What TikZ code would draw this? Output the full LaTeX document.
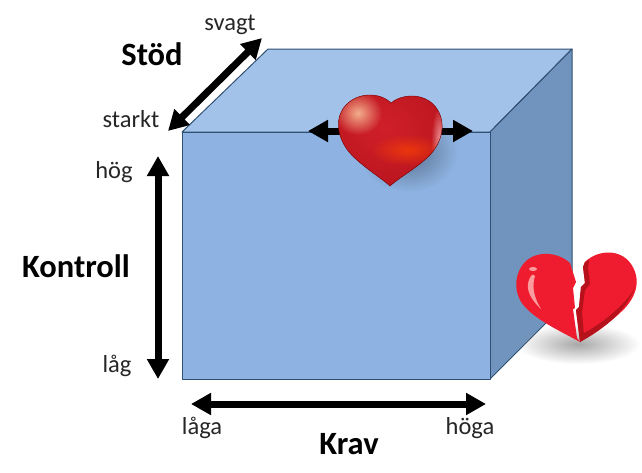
\documentclass[tikz,border=0pt]{standalone}
\usepackage{fontspec}
\setmainfont{Carlito}
\usetikzlibrary{arrows.meta,fadings}
\definecolor{frontc}{HTML}{8EB3E2}
\definecolor{topc}{HTML}{A3C2EA}
\definecolor{sidec}{HTML}{7094BD}
\definecolor{edgec}{HTML}{2F4F73}
\definecolor{brokenred}{HTML}{EE1C2E}
\definecolor{brokendark}{HTML}{B5121B}
\definecolor{heartbase}{HTML}{B8141E}
\definecolor{heartmid}{HTML}{D0202A}
\tikzfading[name=softc,inner color=transparent!0,outer color=transparent!100]
\tikzset{
  x=1pt,y=-1pt,
  face/.style={draw=edgec,line width=1pt,line join=round},
  dbl/.style={{Triangle[length=20pt,width=21pt]}-{Triangle[length=20pt,width=21pt]},line width=7pt,black},
  lab/.style={font=\fontsize{24.5}{26}\selectfont,text=black!85,inner sep=0pt},
  head/.style={font=\bfseries\fontsize{32.5}{34}\selectfont,text=black,inner sep=0pt},
  soft/.style={path fading=softc}
}
\newcommand{\bigheart}{(391,103) .. controls (400,95) and (420,92) .. (433,104) .. controls (447,118) and (444,140) .. (430,155) .. controls (417,168) and (400,177) .. (390,186) .. controls (380,177) and (360,165) .. (349,152) .. controls (336,136) and (335,116) .. (346,105) .. controls (358,92) and (380,92) .. (391,103) -- cycle}
\newcommand{\brokenL}{(570,263) .. controls (558,252) and (537,250) .. (525,262) .. controls (513,275) and (513,296) .. (527,309) .. controls (540,322) and (562,332) .. (580,342) -- (577,338) -- (573,309) -- (575,308) -- (573,288) -- (576,282) -- cycle}
\newcommand{\brokenR}{(585,262) .. controls (597,250) and (620,248) .. (631,264) .. controls (642,280) and (636,298) .. (622,311) .. controls (610,323) and (594,333) .. (580,342) -- (576,310) -- (579,307) -- (581,287) -- (585,283) -- (583,267) -- cycle}
\begin{document}
\begin{tikzpicture}
\useasboundingbox (0,0) rectangle (642,472);
% cube
\coordinate (ftl) at (182,132); \coordinate (ftr) at (490,132);
\coordinate (fbr) at (490,379); \coordinate (fbl) at (182,379);
\coordinate (btl) at (268,49);  \coordinate (btr) at (572,49);
\coordinate (bbr) at (572,297);
\draw[face,fill=topc] (ftl) -- (btl) -- (btr) -- (ftr) -- cycle;
\draw[face,fill=sidec] (ftr) -- (btr) -- (bbr) -- (fbr) -- cycle;
\draw[face,fill=frontc] (ftl) -- (ftr) -- (fbr) -- (fbl) -- cycle;
% arrows
\coordinate (sA) at (168,131); \coordinate (sB) at (262,38);
\coordinate (kA) at (158,156); \coordinate (kB) at (158,379);
\coordinate (rA) at (191,404); \coordinate (rB) at (486,404);
\coordinate (hA) at (308,131); \coordinate (hB) at (473,131);
\draw[dbl] (sA) -- (sB);
\draw[dbl] (kA) -- (kB);
\draw[dbl] (rA) -- (rB);
\draw[dbl] (hA) -- (hB);
% intact heart
\fill[black!50!frontc,opacity=.75,soft] (408,152) ellipse (50 and 40);
\begin{scope}
\clip \bigheart;
\fill[heartbase] (330,90) rectangle (450,190);
\fill[heartmid,soft] (385,128) ellipse (80 and 66);
\fill[orange!55!red,opacity=.65,soft] (408,150) ellipse (38 and 16);
\fill[white!65!orange,opacity=.8,soft] (358,113) ellipse (24 and 22);
\fill[pink,opacity=.75,soft] (440,140) ellipse (9 and 34);
\end{scope}
\draw[red!45!black,line width=.4pt] \bigheart;
% broken heart
\fill[black!40,opacity=.85,soft] (578,344) ellipse (62 and 20);
\fill[brokenred] \brokenL;
\fill[brokenred] \brokenR;
\fill[brokendark] (580,342) .. controls (600,331) and (625,314) .. (635,287) .. controls (628,303) and (600,325) .. (584,333) -- cycle;
\fill[brokendark] (585,262) -- (583,267) -- (585,283) -- (581,287) -- (579,307) -- (576,310) -- (580,342) -- (584,335) -- (582,312) -- (585,290) -- (590,284) -- (588,268) -- (589,260) -- cycle;
\fill[white!70!red,opacity=.85] (531,276) .. controls (525,285) and (527,296) .. (541,309) .. controls (533,296) and (532,285) .. (535,276) .. controls (534,274) and (532,274) .. (531,276) -- cycle;
\fill[white!70!red,opacity=.85] (533,269) ellipse (4 and 2);
% labels
\node[lab] (svagt) at (230,25) {svagt};
\node[lab] (starkt) at (131,119) {starkt};
\node[lab] (hog) at (114,172) {hög};
\node[lab] (lag) at (117,366) {låg};
\node[lab] (laga) at (202,428) {låga};
\node[lab] (hoga) at (470,428) {höga};
\node[head] (stod) at (152,54) {Stöd};
\node[head] (kontroll) at (76,266) {Kontroll};
\node[head] (krav) at (349,444) {Krav};
\end{tikzpicture}
\end{document}
